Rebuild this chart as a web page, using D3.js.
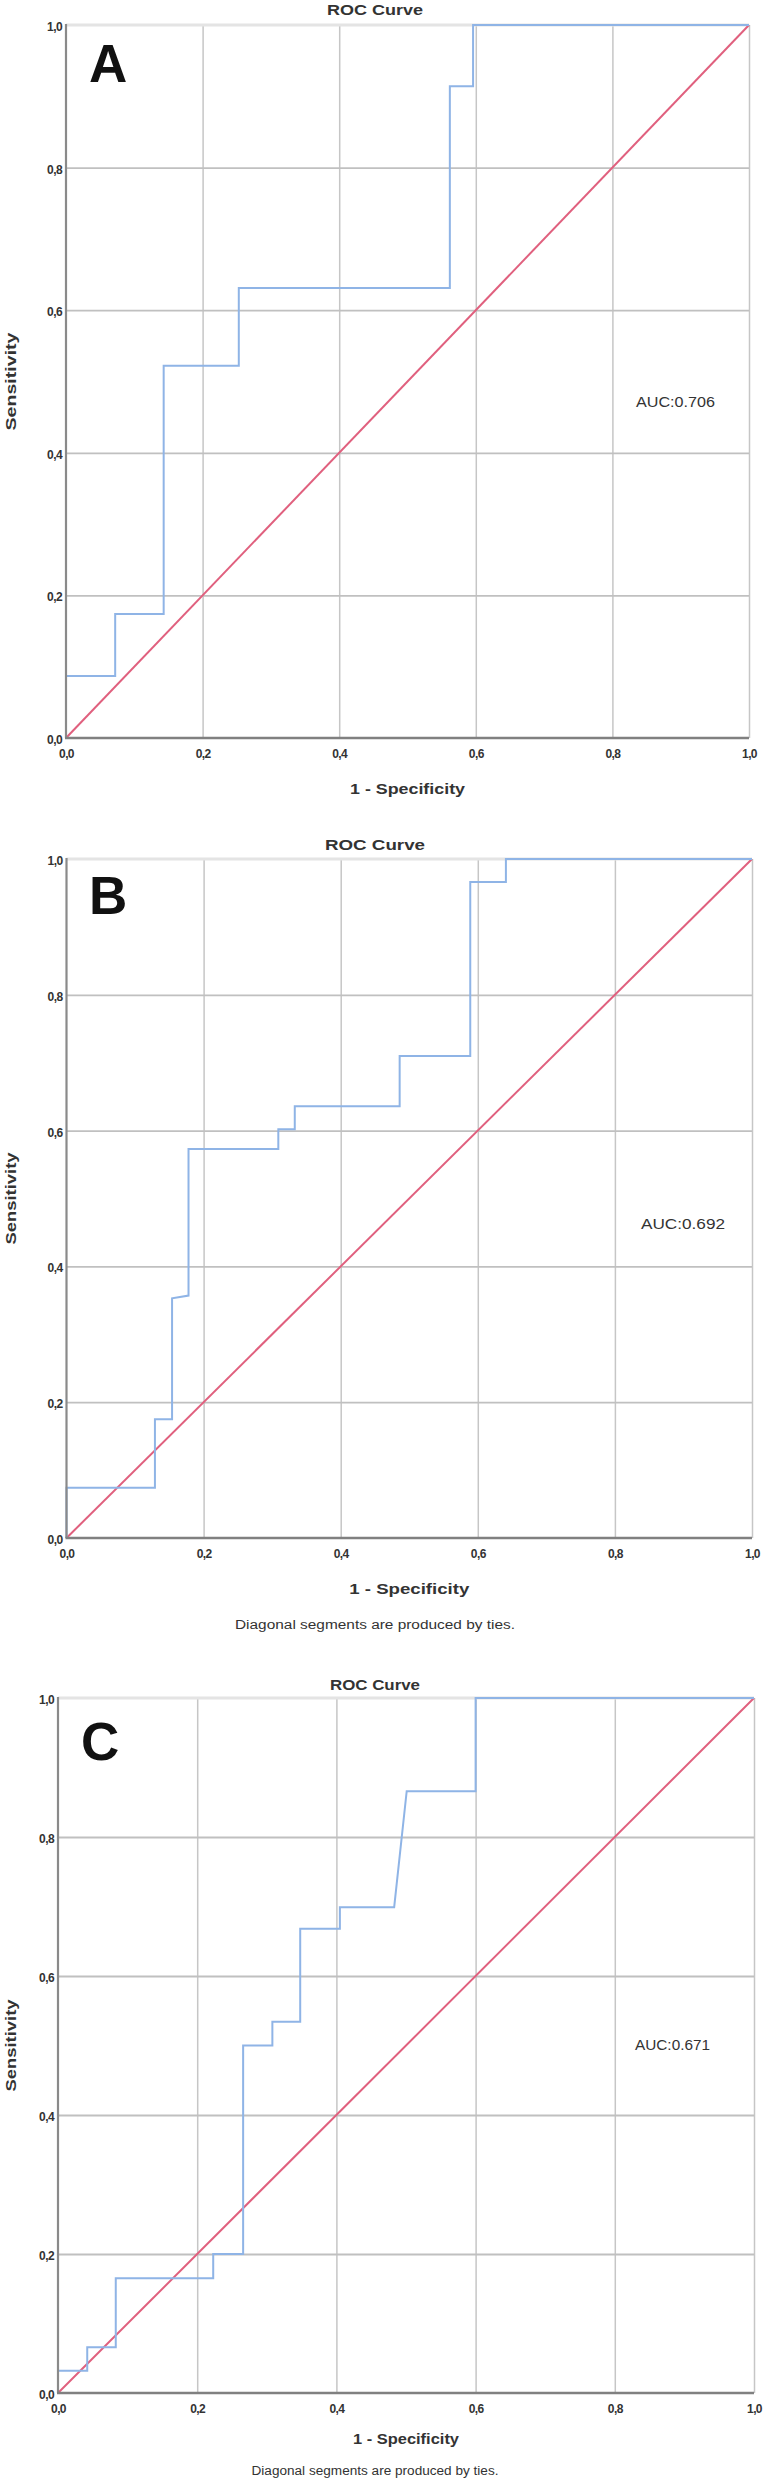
<!DOCTYPE html>
<html>
<head>
<meta charset="utf-8">
<script src="https://cdn.jsdelivr.net/npm/d3@7"></script>
<style>
  html, body { margin: 0; padding: 0; background: #ffffff; }
  svg { display: block; }
  text { font-family: "Liberation Sans", Arial, sans-serif; }
</style>
</head>
<body>
<svg id="chart" width="769" height="2480"></svg>
<script>
// ---------- DATA ----------
const panelLetters = ["A", "B", "C"];
const chartTitle = "ROC Curve";
const xAxisTitle = "1 - Specificity";
const yAxisTitle = "Sensitivity";
const tiesNote = "Diagonal segments are produced by ties.";
const aucLabels = ["AUC:0.706", "AUC:0.692", "AUC:0.671"];
const tickValues = [0, 0.2, 0.4, 0.6, 0.8, 1.0];
const tickLabels = ["0,0", "0,2", "0,4", "0,6", "0,8", "1,0"];

// ROC curve A
const fprA = [0, 0, 0.072, 0.072, 0.143, 0.143, 0.253, 0.253, 0.562, 0.562, 0.596, 0.596, 1];
const tprA = [0, 0.087, 0.087, 0.174, 0.174, 0.522, 0.522, 0.631, 0.631, 0.914, 0.914, 1, 1];
// ROC curve B
const fprB = [0, 0, 0.129, 0.129, 0.154, 0.154, 0.178, 0.178, 0.309, 0.309, 0.333, 0.333, 0.486, 0.486, 0.589, 0.589, 0.641, 0.641, 1];
const tprB = [0, 0.074, 0.074, 0.175, 0.175, 0.353, 0.357, 0.573, 0.573, 0.602, 0.602, 0.636, 0.636, 0.710, 0.710, 0.966, 0.966, 1, 1];
// ROC curve C
const fprC = [0, 0, 0.042, 0.042, 0.083, 0.083, 0.223, 0.223, 0.266, 0.266, 0.308, 0.308, 0.348, 0.348, 0.405, 0.405, 0.483, 0.501, 0.600, 0.600, 1];
const tprC = [0, 0.032, 0.032, 0.066, 0.066, 0.165, 0.165, 0.200, 0.200, 0.500, 0.500, 0.534, 0.534, 0.668, 0.668, 0.699, 0.699, 0.866, 0.866, 1, 1];
// Reference (chance) line
const refFpr = [0, 1];
const refTpr = [0, 1];

const curves = [
  { fpr: fprA, tpr: tprA },
  { fpr: fprB, tpr: tprB },
  { fpr: fprC, tpr: tprC }
];

// ---------- LAYOUT ----------
const layouts = [
  { x0: 66,   x1: 749, yTop: 25,   yBot: 738,  titleY: 15,   tickY: 758,  axisTitleY: 794,  noteY: null, aucX: 636, aucY: 407,  aucW: 79,
    letterX: 89, letterY: 82,   titleW: 96, axW: 115, sensLen: 98, noteW: 0 },
  { x0: 66.5, x1: 752, yTop: 859,  yBot: 1538, titleY: 850,  tickY: 1558, axisTitleY: 1594, noteY: 1629, aucX: 641, aucY: 1229, aucW: 84,
    letterX: 89, letterY: 914,  titleW: 100, axW: 120, sensLen: 92, noteW: 280 },
  { x0: 58,   x1: 754, yTop: 1698, yBot: 2393, titleY: 1690, tickY: 2413, axisTitleY: 2444, noteY: 2475, aucX: 635, aucY: 2050, aucW: 75,
    letterX: 81, letterY: 1760, titleW: 90, axW: 106, sensLen: 92, noteW: 247 }
];

const svg = d3.select("#chart");
svg.append("rect").attr("width", 769).attr("height", 2480).attr("fill", "#ffffff");

layouts.forEach((L, i) => {
  const x = d3.scaleLinear().domain([0, 1]).range([L.x0, L.x1]);
  const y = d3.scaleLinear().domain([0, 1]).range([L.yBot, L.yTop]);
  const g = svg.append("g");

  // vertical grid lines
  const gx = g.append("g")
    .attr("transform", `translate(0,${L.yBot})`)
    .call(d3.axisBottom(x).tickValues(tickValues.slice(1)).tickSize(-(L.yBot - L.yTop)).tickFormat(""));
  gx.select(".domain").remove();
  gx.selectAll(".tick line").attr("stroke", "#c6c6c6").attr("stroke-width", 1.5);

  // horizontal grid lines
  const gy = g.append("g")
    .attr("transform", `translate(${L.x0},0)`)
    .call(d3.axisLeft(y).tickValues(tickValues.slice(1, 5)).tickSize(-(L.x1 - L.x0)).tickFormat(""));
  gy.select(".domain").remove();
  gy.selectAll(".tick line").attr("stroke", "#c0c0c0").attr("stroke-width", 1.8);

  // top border (light)
  g.append("line").attr("x1", L.x0).attr("x2", L.x1).attr("y1", y(1)).attr("y2", y(1))
    .attr("stroke", "#e4e4e4").attr("stroke-width", 3);

  // reference line
  g.append("path")
    .datum(refFpr.map((v, k) => [v, refTpr[k]]))
    .attr("d", d3.line().x(d => x(d[0])).y(d => y(d[1])))
    .attr("fill", "none").attr("stroke", "#e0607e").attr("stroke-width", 2);

  // ROC curve
  const c = curves[i];
  g.append("path")
    .datum(c.fpr.map((v, k) => [v, c.tpr[k]]))
    .attr("d", d3.line().x(d => x(d[0])).y(d => y(d[1])))
    .attr("fill", "none").attr("stroke", "#8fb4e6").attr("stroke-width", 2)
    .attr("stroke-linejoin", "miter");

  // axes lines (left and bottom)
  g.append("line").attr("x1", L.x0).attr("x2", L.x0).attr("y1", y(1) - 1).attr("y2", y(0))
    .attr("stroke", "#8a8a8a").attr("stroke-width", 2.2);
  g.append("line").attr("x1", L.x0 - 1).attr("x2", L.x1).attr("y1", y(0)).attr("y2", y(0))
    .attr("stroke", "#808080").attr("stroke-width", 2.6);

  // y tick labels
  const yl = g.append("g")
    .attr("transform", `translate(${L.x0 - 4},0)`)
    .call(d3.axisLeft(y).tickValues(tickValues).tickSize(0).tickPadding(0)
      .tickFormat((d, k) => tickLabels[k]));
  yl.select(".domain").remove();
  yl.selectAll("text")
    .attr("font-family", "Liberation Sans, Arial, sans-serif")
    .attr("font-size", 12).attr("font-weight", "bold").attr("fill", "#333")
    .attr("letter-spacing", -0.6).attr("dy", "0.45em");

  // x tick labels
  const xl = g.append("g")
    .attr("transform", `translate(0,${L.tickY})`)
    .call(d3.axisBottom(x).tickValues(tickValues).tickSize(0).tickPadding(0)
      .tickFormat((d, k) => tickLabels[k]));
  xl.select(".domain").remove();
  xl.selectAll("text")
    .attr("font-family", "Liberation Sans, Arial, sans-serif")
    .attr("font-size", 12).attr("font-weight", "bold").attr("fill", "#333")
    .attr("letter-spacing", -0.6).attr("dy", 0);

  // title
  g.append("text").attr("x", 375).attr("y", L.titleY).attr("text-anchor", "middle")
    .attr("font-size", 14).attr("font-weight", "bold").attr("fill", "#333")
    .attr("textLength", L.titleW).attr("lengthAdjust", "spacingAndGlyphs")
    .text(chartTitle);

  // panel letter
  g.append("text").attr("x", L.letterX).attr("y", L.letterY)
    .attr("font-size", 53).attr("font-weight", "bold").attr("fill", "#111")
    .text(panelLetters[i]);

  // x axis title
  g.append("text").attr("x", (L.x0 + L.x1) / 2).attr("y", L.axisTitleY).attr("text-anchor", "middle")
    .attr("font-size", 15).attr("font-weight", "bold").attr("fill", "#333")
    .attr("textLength", L.axW).attr("lengthAdjust", "spacingAndGlyphs")
    .text(xAxisTitle);

  // y axis title
  const cy = (L.yTop + L.yBot) / 2;
  g.append("text").attr("transform", `translate(16,${cy}) rotate(-90)`).attr("text-anchor", "middle")
    .attr("font-size", 15).attr("font-weight", "bold").attr("fill", "#333")
    .attr("textLength", L.sensLen).attr("lengthAdjust", "spacingAndGlyphs")
    .text(yAxisTitle);

  // AUC label
  g.append("text").attr("x", L.aucX).attr("y", L.aucY)
    .attr("font-size", 14).attr("fill", "#333")
    .attr("textLength", L.aucW).attr("lengthAdjust", "spacingAndGlyphs")
    .text(aucLabels[i]);

  // ties note
  if (L.noteY !== null) {
    g.append("text").attr("x", 375).attr("y", L.noteY).attr("text-anchor", "middle")
      .attr("font-size", 12).attr("fill", "#333")
      .attr("textLength", L.noteW).attr("lengthAdjust", "spacingAndGlyphs")
      .text(tiesNote);
  }
});
</script>
</body>
</html>
